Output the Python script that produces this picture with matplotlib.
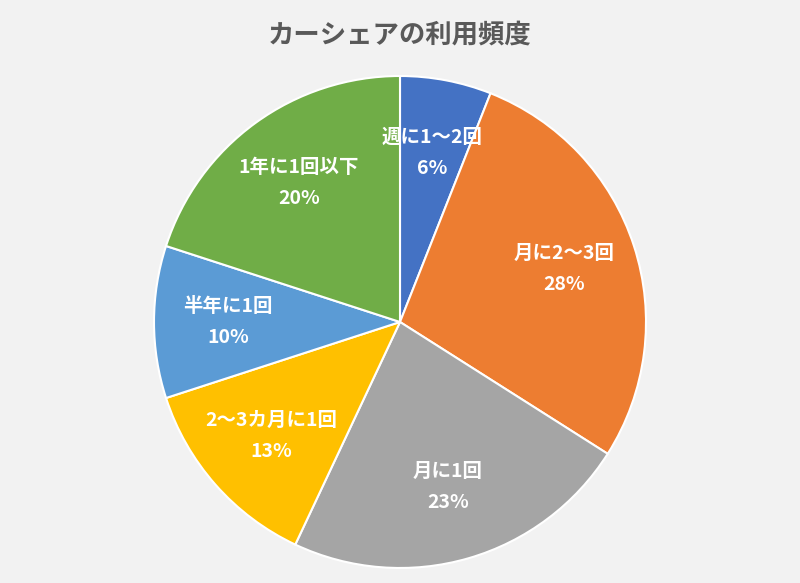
import matplotlib.pyplot as plt

labels = ["週に1～2回", "月に2～3回", "月に1回", "2～3カ月に1回", "半年に1回", "1年に1回以下"]
values = [6, 28, 23, 13, 10, 20]
colors = ["#4472C4", "#ED7D31", "#A5A5A5", "#FFC000", "#5B9BD5", "#70AD47"]

plt.rcParams["font.family"] = "Noto Sans CJK JP"

fig = plt.figure(figsize=(8, 5.83), dpi=100)
fig.patch.set_facecolor("#F2F2F2")
ax = fig.add_axes([0.1925, 0.0257, 0.615, 0.844])

counter = iter(range(len(values)))

def fmt(pct):
    i = next(counter)
    return f"{labels[i]}\n{values[i]}%"

wedges, texts, autotexts = ax.pie(values, colors=colors, startangle=90, counterclock=False,
                                  autopct=fmt, pctdistance=0.7,
                                  wedgeprops=dict(edgecolor="white", linewidth=1.5))
for t in autotexts:
    t.set_color("white")
    t.set_fontsize(14)
    t.set_fontweight("bold")
    t.set_linespacing(1.8)
ax.set_xlim(-1, 1)
ax.set_ylim(-1, 1)
ax.set_aspect("equal")

fig.text(0.5, 0.94, "カーシェアの利用頻度", ha="center", va="center",
         fontsize=19, fontweight="bold", color="#595959")

plt.savefig("out.png", dpi=100, facecolor=fig.get_facecolor())
